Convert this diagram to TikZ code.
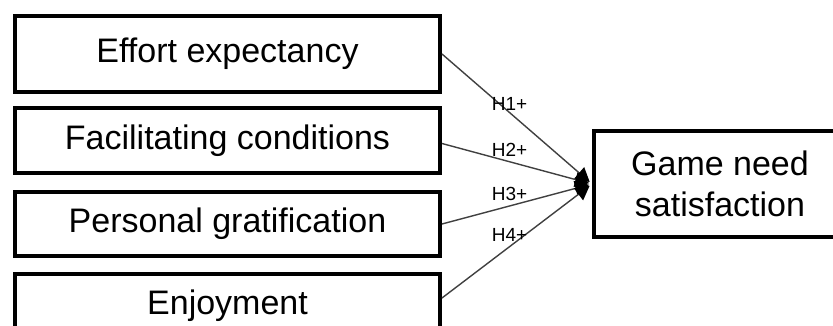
\documentclass[tikz,border=0pt]{standalone}
\usepackage{fontspec}
\setmainfont{Liberation Sans}
\usetikzlibrary{arrows.meta, positioning}
\tikzstyle{box} = [draw, line width=4pt, minimum width=425pt, inner sep=0pt, align=center, font=\fontsize{34}{41}\selectfont]
\tikzstyle{arrow} = [-{Triangle[length=14pt, width=15pt, color=black]}, line width=1.4pt, draw=black!75, shorten >=3pt]
\tikzstyle{hyp} = [font=\fontsize{19}{22}\selectfont, inner sep=1pt, pos=0.45, above=4pt]

\begin{document}
\begin{tikzpicture}[x=1pt, y=-1pt, node distance=13pt]

    \useasboundingbox (0,0) rectangle (833,326);
    \clip (0,0) rectangle (833,326);

    \node [box, minimum height=76pt] (eff) at (227.5, 54) {Effort expectancy};
    \node [box, minimum height=65pt, below=12pt of eff] (fac) {Facilitating conditions};
    \node [box, minimum height=64pt, below=15pt of fac] (pers) {Personal gratification};
    \node [box, minimum height=64pt, below=14pt of pers] (enj) {Enjoyment};

    \node [box, minimum width=252pt, minimum height=106pt, anchor=west] (gns) at (592, 184) {Game need\\satisfaction};

    \draw [arrow] (eff.east) -- node [hyp, above=0pt] {H1+} (gns.west);
    \draw [arrow] ([yshift=-3pt]fac.east) -- node [hyp] {H2+} (gns.west);
    \draw [arrow] (pers.east) -- node [hyp] {H3+} (gns.west);
    \draw [arrow] ([yshift=8pt]enj.east) -- node [hyp] {H4+} (gns.west);

\end{tikzpicture}
\end{document}
